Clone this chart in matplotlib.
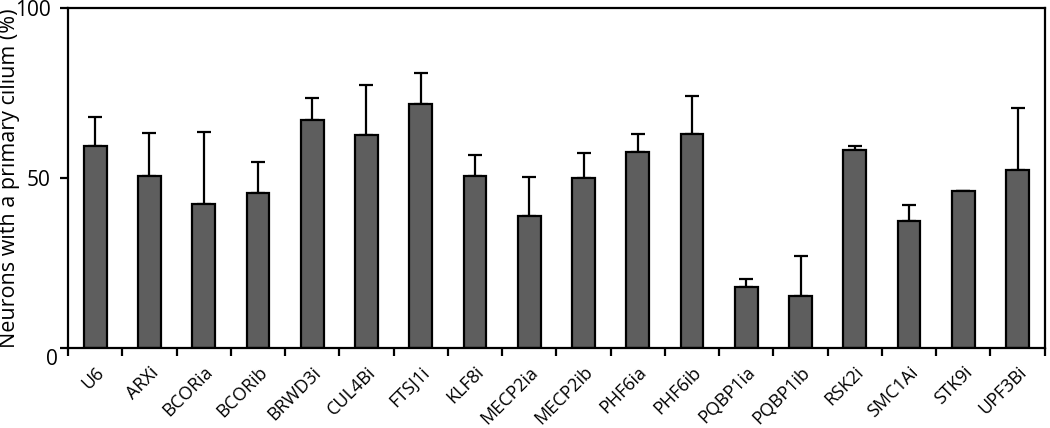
import matplotlib
matplotlib.use("Agg")
import matplotlib.pyplot as plt
import numpy as np

labels = ["U6", "ARXi", "BCORia", "BCORib", "BRWD3i", "CUL4Bi", "FTSJ1i", "KLF8i",
          "MECP2ia", "MECP2ib", "PHF6ia", "PHF6ib", "PQBP1ia", "PQBP1ib", "RSK2i",
          "SMC1Ai", "STK9i", "UPF3Bi"]
values = [59.4, 50.5, 42.3, 45.7, 67.0, 62.8, 71.9, 50.7, 38.9, 50.1, 57.7, 63.0,
          17.9, 15.2, 58.3, 37.4, 46.3, 52.5]
errors = [8.5, 12.8, 21.3, 8.9, 6.7, 14.6, 9.1, 6.2, 11.5, 7.3, 5.4, 11.1,
          2.3, 11.9, 1.1, 4.8, 0, 18.0]

plt.rcParams['font.family'] = ['Open Sans', 'DejaVu Sans']

fig = plt.figure(figsize=(10.5, 4.28), dpi=100)
ax = fig.add_axes([0.0648, 0.187, 0.9302, 0.794])

x = np.arange(len(labels))
ax.bar(x, values, width=0.42, color='#5e5e5e', edgecolor='black', linewidth=1.6, zorder=2)
ax.errorbar(x, values, yerr=[np.zeros(len(errors)), errors], fmt='none',
            ecolor='black', elinewidth=1.6, capsize=5, capthick=1.6, zorder=1)

ax.set_xlim(-0.5, len(labels) - 0.5)
ax.set_ylim(0, 100)
ax.set_yticks([0, 50, 100])
ax.set_yticklabels(['', '50', '100'], fontsize=15)
# the "0" sits a little below its tick in the original
ax.text(-0.0102, -0.035, '0', transform=ax.transAxes, ha='right', va='center', fontsize=15)

# ticks sit between bars, labels under each bar
ax.set_xticks(np.arange(len(labels) + 1) - 0.5)
ax.set_xticklabels([])
ax.set_xticks(x, minor=True)
ax.set_xticklabels(labels, minor=True, rotation=45, ha='right', rotation_mode='anchor', fontsize=13)
ax.tick_params(axis='x', which='minor', length=0, pad=11)
ax.tick_params(axis='x', which='major', length=6, width=1.6)
ax.tick_params(axis='y', length=6, width=1.6, pad=6.5)

for s in ax.spines.values():
    s.set_linewidth(1.6)

ax.set_ylabel('Neurons with a primary cilium (%)', fontsize=15.5)
ax.yaxis.set_label_coords(-0.049, 0.5)

fig.savefig('out.png', dpi=100)
